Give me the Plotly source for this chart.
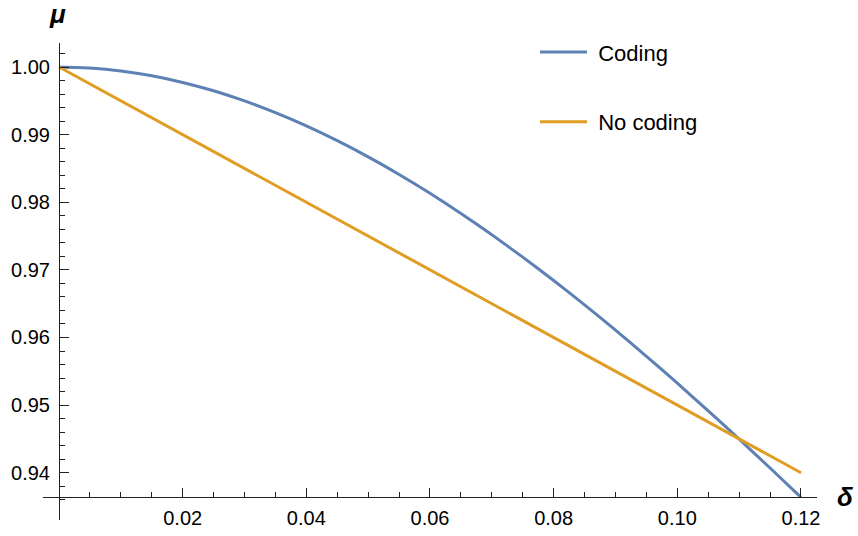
import numpy as np
import plotly.graph_objects as go

# ---- data ----
delta_coding = [0.0, 0.005, 0.01, 0.015, 0.02, 0.025, 0.03, 0.035, 0.04, 0.045, 0.05, 0.055,
                0.06, 0.065, 0.07, 0.075, 0.08, 0.085, 0.09, 0.095, 0.10, 0.105, 0.11, 0.115, 0.12]
mu_coding = [1.0, 0.99985, 0.99942, 0.99870, 0.99772, 0.99648, 0.99498, 0.99325, 0.99129,
             0.98910, 0.98671, 0.98411, 0.98132, 0.97835, 0.97520, 0.97189, 0.96843,
             0.96483, 0.96109, 0.95722, 0.95324, 0.94915, 0.94497, 0.94070, 0.93636]
delta_nocoding = [0.0, 0.12]
mu_nocoding = [1.0, 0.94]

x_ticks = [0.02, 0.04, 0.06, 0.08, 0.10, 0.12]
y_ticks = [0.94, 0.95, 0.96, 0.97, 0.98, 0.99, 1.00]

BLUE = "#5E81B5"
ORANGE = "#E19C24"
AX = "#222222"
FONT = "Liberation Sans"

W, H = 858, 536
L, R, T, B = 43, 41, 43, 16
x_range = [-0.002588, 0.12259]
y_range = [0.93301, 1.003549]
x_origin = 0.0
y_origin = 0.93636

fig = go.Figure()
fig.add_trace(go.Scatter(x=delta_coding, y=mu_coding, mode="lines", name="\u00a0Coding",
                         legendgroup="a",
                         line=dict(color=BLUE, width=3, shape="spline", smoothing=0.5)))
fig.add_trace(go.Scatter(x=delta_nocoding, y=mu_nocoding, mode="lines", name="\u00a0No coding",
                         legendgroup="b",
                         line=dict(color=ORANGE, width=3)))

xpos = (y_origin - y_range[0]) / (y_range[1] - y_range[0])
ypos = (x_origin - x_range[0]) / (x_range[1] - x_range[0])

x_minor = [round(v, 4) for v in np.arange(0.005, 0.1201, 0.005) if round(v, 4) not in x_ticks]
y_minor = [round(v, 4) for v in np.arange(0.936, 1.0031, 0.002) if round(v, 3) not in y_ticks]

fig.update_layout(
    width=W, height=H,
    margin=dict(l=L, r=R, t=T, b=B, autoexpand=False),
    plot_bgcolor="white", paper_bgcolor="white",
    font=dict(family=FONT, size=20, color="black"),
    showlegend=True,
    legend=dict(x=0.6357, y=1.0246, xanchor="left", yanchor="top",
                font=dict(size=22, family=FONT), traceorder="grouped",
                tracegroupgap=38, itemwidth=47, bgcolor="rgba(0,0,0,0)"),
    xaxis=dict(range=x_range, anchor="free", position=xpos, showgrid=False, zeroline=False,
               showline=True, linecolor=AX, linewidth=1,
               tickmode="array", tickvals=x_ticks, tickformat=".2f",
               ticks="inside", ticklen=9, tickwidth=1, tickcolor=AX,
               ticklabelstandoff=3,
               minor=dict(tickmode="array", tickvals=x_minor, ticks="inside", ticklen=5,
                          tickwidth=1, tickcolor=AX, showgrid=False)),
    yaxis=dict(range=y_range, anchor="free", position=ypos, showgrid=False, zeroline=False,
               showline=True, linecolor=AX, linewidth=1,
               tickmode="array", tickvals=y_ticks, tickformat=".2f",
               ticks="inside", ticklen=9, tickwidth=1, tickcolor=AX,
               ticklabelstandoff=5,
               minor=dict(tickmode="array", tickvals=y_minor, ticks="inside", ticklen=5,
                          tickwidth=1, tickcolor=AX, showgrid=False)),
)

fig.add_annotation(text="<b><i>μ</i></b>", xref="paper", yref="paper",
                   x=(57.5 - L) / (W - L - R), y=(H - B - 14) / (H - T - B),
                   xanchor="center", yanchor="middle", showarrow=False,
                   font=dict(size=26, family=FONT, color="black"))
fig.add_annotation(text="<b><i>δ</i></b>", xref="paper", yref="paper",
                   x=(845 - L) / (W - L - R), y=(H - B - 497) / (H - T - B),
                   xanchor="center", yanchor="middle", showarrow=False,
                   font=dict(size=26, family=FONT, color="black"))

fig.write_html("out.html", config={"displayModeBar": False},
               post_script="document.body.style.margin='0';document.body.style.padding='0';")
